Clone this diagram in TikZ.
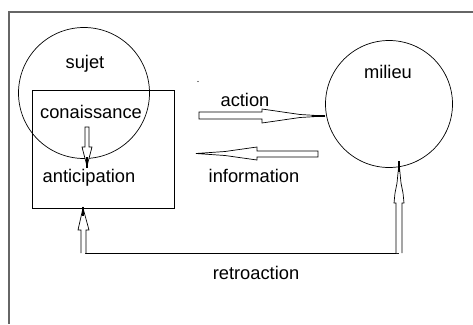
\documentclass[tikz,border=0pt]{standalone}
\usepackage{fontspec}
\setmainfont{Liberation Sans}
\begin{document}
\begin{tikzpicture}[x=1pt,y=-1pt,
  lbl/.style={inner sep=0pt,font=\fontsize{18.3}{20}\selectfont},
  ring/.style={draw,circle,line width=0.7pt,inner sep=0pt},
  blk/.style={draw,line width=0.7pt,fill=white,line join=miter},
  frameline/.style={draw=black!60,line width=1.6pt}]
\useasboundingbox (0,0) rectangle (473,324);
% frame
\draw[frameline] (473,12) -- (9,12) -- (9,324);
% box
\node[draw,line width=0.7pt,minimum width=142pt,minimum height=118pt,inner sep=0pt] (box) at (103,149) {};
% circles
\node[ring,minimum size=131pt] (sujet) at (84,93) {};
\node[ring,minimum size=127pt] (milieu) at (389,104) {};
% texts
\node[lbl] (tsujet) at (85,64) {sujet};
\node[lbl] (tcon) at (91,112) {conaissance};
\node[lbl] (tant) at (89,178) {anticipation};
\node[lbl] (tmil) at (388,72) {milieu};
\node[lbl] (tact) at (245,100) {action};
\node[lbl] (tinf) at (254,176) {information};
\node[lbl] (tret) at (256,273) {retroaction};
% stray dot
\fill (198,81.5) circle (0.6pt);
% conaissance -> anticipation
\draw[blk] (85,127) -- (89,127) -- (89,147) -- (92,147) -- (87,166) -- (82,147) -- (85,147) -- cycle;
\draw[line width=1.2pt] (87,157) -- (87,168);
% action
\draw[blk] (199,112) -- (262,112) -- (262,109) -- (300,114.5) -- (325,116) -- (300,117.5) -- (262,123) -- (262,119) -- (199,119) -- cycle;
\draw[line width=1.2pt] (312,116) -- (325,116);
% information
\draw[blk] (318,151) -- (257,151) -- (257,147) -- (225,151.5) -- (196,153.5) -- (225,155.5) -- (257,160) -- (257,157) -- (318,157) -- cycle;
% retroaction
\draw[line width=0.7pt] (85,253) -- (399,253);
\draw[blk] (396,253) -- (396,203) -- (394,203) -- (395,193) -- (397,183) -- (399,163) -- (401,183) -- (403,193) -- (404,203) -- (402,203) -- (402,253);
\draw[line width=1.4pt] (399,161) -- (399,172);
\draw[blk] (81,253) -- (81,230) -- (78,230) -- (83,208) -- (89,230) -- (86,230) -- (86,253);
\draw[line width=1.2pt] (83,207) -- (83,216);
\end{tikzpicture}
\end{document}
